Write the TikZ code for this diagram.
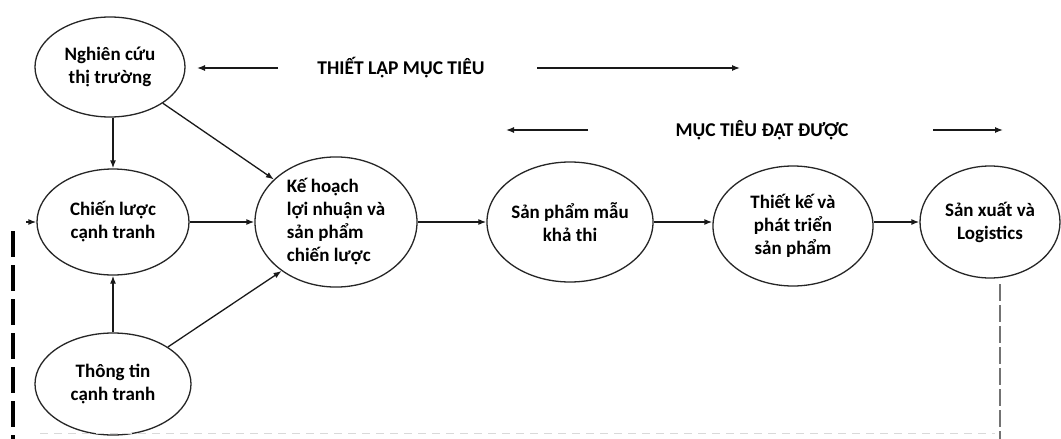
\documentclass[tikz,border=0pt]{standalone}
\usepackage{fontspec}
\setmainfont{Carlito}
\usetikzlibrary{shapes.geometric,arrows.meta}
\tikzset{
  oval/.style={ellipse, draw=black!85, line width=1.3pt, inner sep=0pt, align=center,
    font=\fontsize{19}{23}\selectfont\bfseries},
  arr/.style={draw=black!90, line width=1.3pt, -{Latex[length=8pt,width=6pt]}},
  lbl/.style={font=\fontsize{19.5}{23}\selectfont\bfseries, inner sep=0pt},
  thickdash/.style={draw=black, line width=3.5pt, dash pattern=on 26pt off 8pt},
  greydash/.style={draw=black!55, line width=2.5pt, dash pattern=on 17pt off 4pt},
  faintline/.style={draw=black!15, line width=1pt, dash pattern=on 8pt off 6pt}
}
\begin{document}
\begin{tikzpicture}[x=1pt,y=-1pt]
\useasboundingbox[fill=white] (0,0) rectangle (1061,439);
% nodes
\node[oval, minimum width=150pt, minimum height=100pt] (nc) at (110,67) {Nghiên cứu\\thị trường};
\node[oval, minimum width=152pt, minimum height=106pt] (cl) at (113,222) {Chiến lược\\cạnh tranh};
\node[oval, minimum width=156pt, minimum height=102pt] (tt) at (113,384) {Thông tin\\cạnh tranh};
\node[oval, minimum width=162pt, minimum height=116pt] (kh) at (336,222) {\begin{tabular}{@{}l@{}}Kế hoạch\\lợi nhuận và\\sản phẩm\\chiến lược\end{tabular}};
\node[oval, minimum width=160pt, minimum height=120pt] (sp) at (570,222) {Sản phẩm mẫu\\khả thi};
\node[oval, minimum width=160pt, minimum height=120pt] (tk) at (793,226) {Thiết kế và\\phát triển\\sản phẩm};
\node[oval, minimum width=140pt, minimum height=112pt] (sx) at (990,222) {Sản xuất và\\Logistics};
% top labels
\node[lbl] (t1) at (401,68) {THIẾT LẬP MỤC TIÊU};
\node[lbl] (t2) at (762,130) {MỤC TIÊU ĐẠT ĐƯỢC};
\coordinate (a1s) at (278,68); \coordinate (a1e) at (197,68);
\coordinate (a2s) at (537,68); \coordinate (a2e) at (740,68);
\coordinate (a3s) at (588,130); \coordinate (a3e) at (506,130);
\coordinate (a4s) at (933,130); \coordinate (a4e) at (1003,130);
\draw[arr] (a1s) -- (a1e);
\draw[arr] (a2s) -- (a2e);
\draw[arr] (a3s) -- (a3e);
\draw[arr] (a4s) -- (a4e);
% connectors
\draw[arr] (nc.south -| cl.north) -- (cl);
\draw[arr] (tt) -- (cl);
\draw[arr] (nc) -- (kh);
\draw[arr] (tt.34) -- (kh.222);
\draw[arr] (cl) -- (kh);
\draw[arr] (kh) -- (sp);
\draw[arr] (sp.east) -- (sp.east -| tk.west);
\draw[arr] (sp.east -| tk.east) -- (sp.east -| sx.west);
% feedback
\coordinate (la) at (26,222);
\draw[arr] (la) -- (cl.west);
\coordinate (lt) at (13,231);
\coordinate (lb) at (13,439);
\draw[thickdash] (lt) -- (lb);
\coordinate (rt) at (1000,284);
\coordinate (rb) at (1000,439);
\draw[greydash] (rt) -- (rb);
\coordinate (bl) at (40,433);
\coordinate (br) at (995,433);
\draw[faintline] (bl) -- (br);
\end{tikzpicture}
\end{document}
